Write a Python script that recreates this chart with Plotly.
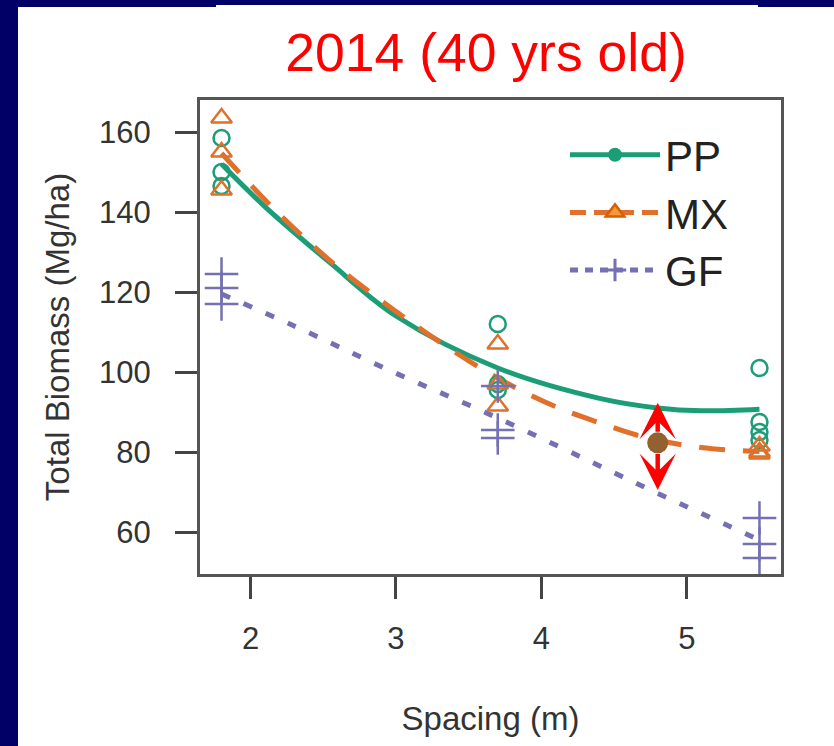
import plotly.graph_objects as go

# Observed total biomass of each plot (Mg/ha) by planting spacing (m)
pp_x = [1.8, 1.8, 1.8, 3.7, 3.7, 3.7, 5.5, 5.5, 5.5, 5.5]
pp_y = [158.5, 150.0, 146.5, 112.0, 97.0, 95.5, 101.0, 87.5, 85.0, 83.0]
mx_x = [1.8, 1.8, 1.8, 3.7, 3.7, 3.7, 5.5, 5.5, 5.5]
mx_y = [163.5, 155.0, 145.5, 107.0, 97.0, 91.5, 81.5, 80.0, 79.5]
gf_x = [1.8, 1.8, 1.8, 3.7, 3.7, 3.7, 5.5, 5.5, 5.5]
gf_y = [124.5, 121.0, 117.0, 96.5, 85.5, 83.5, 63.5, 57.0, 53.5]

# Fitted response curves
pp_fit_x = [1.8, 2.1, 2.55, 3.0, 3.7, 4.4, 4.8, 5.1, 5.5]
pp_fit_y = [152.0, 141.3, 127.2, 114.0, 101.0, 93.4, 91.0, 90.3, 90.7]
mx_fit_x = [1.8, 2.1, 2.35, 2.6, 2.9, 3.2, 3.5, 3.8, 4.1, 4.4, 4.7, 5.1, 5.5]
mx_fit_y = [154.7, 143.0, 134.2, 126.2, 117.8, 110.0, 102.8, 96.5, 91.3, 87.3, 83.8, 81.1, 80.1]
gf_fit_x = [1.8, 2.3, 2.95, 3.7, 4.46, 4.78, 5.5]
gf_fit_y = [119.5, 111.5, 100.5, 88.5, 75.5, 70.0, 58.0]

# Highlighted spacing and the range it spans between the curves
focus_x = [4.8]
focus_y = [82.3]
range_top = 92.3
range_bottom = 70.5

x_ticks = [2, 3, 4, 5]
y_ticks = [60, 80, 100, 120, 140, 160]

GREEN = "#1b9e77"
ORANGE = "#e0702a"
PURPLE = "#7570b3"
FONT = "Liberation Sans, Arial, sans-serif"

fig = go.Figure()

# fitted curves
fig.add_trace(go.Scatter(x=gf_fit_x, y=gf_fit_y, mode="lines", showlegend=False,
                         line=dict(color=PURPLE, width=5, dash="9px,15px", shape="spline")))
fig.add_trace(go.Scatter(x=pp_fit_x, y=pp_fit_y, mode="lines", showlegend=False,
                         line=dict(color=GREEN, width=5, shape="spline")))
fig.add_trace(go.Scatter(x=mx_fit_x, y=mx_fit_y, mode="lines", showlegend=False,
                         line=dict(color=ORANGE, width=5, dash="26px,18px", shape="spline")))

# observed plots
fig.add_trace(go.Scatter(x=pp_x, y=pp_y, mode="markers", showlegend=False,
                         marker=dict(symbol="circle-open", size=16, color=GREEN,
                                     line=dict(width=2.5, color=GREEN))))
fig.add_trace(go.Scatter(x=mx_x, y=mx_y, mode="markers", showlegend=False,
                         marker=dict(symbol="triangle-up-open", size=18, color=ORANGE,
                                     line=dict(width=2.5, color=ORANGE))))
fig.add_trace(go.Scatter(x=gf_x, y=gf_y, mode="markers", showlegend=False,
                         marker=dict(symbol="cross-thin-open", size=24, color=PURPLE,
                                     line=dict(width=2.5, color=PURPLE))))

# legend keys
fig.add_trace(go.Scatter(x=[None], y=[None], mode="lines+markers", name="PP", legendgroup="PP",
                         line=dict(color=GREEN, width=5),
                         marker=dict(symbol="circle", size=14, color=GREEN)))
fig.add_trace(go.Scatter(x=[None], y=[None], mode="lines+markers", name="MX", legendgroup="MX",
                         line=dict(color=ORANGE, width=5, dash="16px,8px"),
                         marker=dict(symbol="triangle-up", size=16, color="#f39a3c",
                                     line=dict(color="#d95f02", width=2.5))))
fig.add_trace(go.Scatter(x=[None], y=[None], mode="lines+markers", name="GF", legendgroup="GF",
                         line=dict(color=PURPLE, width=5, dash="8px,7px"),
                         marker=dict(symbol="cross-thin-open", size=18,
                                     line=dict(color=PURPLE, width=3))))

# highlighted point
fig.add_trace(go.Scatter(x=focus_x, y=focus_y, mode="markers", showlegend=False,
                         marker=dict(size=21, color="#93602f")))

annotations = []
for tip in (range_top, range_bottom):
    tail = focus_y[0] + (2.4 if tip > focus_y[0] else -2.4)
    annotations.append(dict(x=focus_x[0], y=tip, ax=focus_x[0], ay=tail,
                            xref="x", yref="y", axref="x", ayref="y",
                            text="", showarrow=True, arrowhead=3, arrowsize=1.35,
                            arrowwidth=4.5, arrowcolor="#ff0000", standoff=0, startstandoff=0))

NAVY = "#000066"
shapes = [
    dict(type="rect", xref="paper", yref="paper", layer="below", line=dict(width=0),
         fillcolor=NAVY, x0=-0.35, x1=(18 - 200) / 581, y0=-0.4, y1=1.3),
    dict(type="rect", xref="paper", yref="paper", layer="below", line=dict(width=0),
         fillcolor=NAVY, x0=-0.35, x1=(216 - 200) / 581, y0=1 + (100 - 7) / 474, y1=1.3),
    dict(type="rect", xref="paper", yref="paper", layer="below", line=dict(width=0),
         fillcolor=NAVY, x0=(216 - 200) / 581, x1=(758 - 200) / 581, y0=1 + (100 - 5) / 474, y1=1.3),
    dict(type="rect", xref="paper", yref="paper", layer="below", line=dict(width=0),
         fillcolor=NAVY, x0=(758 - 200) / 581, x1=(834 - 200) / 581, y0=1 + (100 - 7) / 474, y1=1.3),
]

axis_common = dict(showgrid=False, zeroline=False, showline=True, mirror=True,
                   linecolor="#555555", linewidth=3, ticks="outside", ticklen=22,
                   tickwidth=2.5, tickcolor="#444444",
                   tickfont=dict(family=FONT, size=31, color="#333333"),
                   title_font=dict(family=FONT, size=33, color="#333333"))

fig.update_layout(
    width=834, height=746,
    margin=dict(l=200, r=53, t=100, b=172, autoexpand=False),
    paper_bgcolor="white", plot_bgcolor="white",
    font=dict(family=FONT),
    title=dict(text="2014 (40 yrs old)", x=486 / 834, xanchor="center", xref="container",
               y=1 - 52 / 746, yanchor="middle", yref="container",
               font=dict(family=FONT, size=53.5, color="#ff0000")),
    xaxis=dict(range=[1.652, 5.648], tickvals=x_ticks, ticklabelstandoff=13,
               title=dict(text="Spacing (m)", standoff=52), **axis_common),
    yaxis=dict(range=[49.5, 168.0], tickvals=y_ticks, ticklabelstandoff=18,
               title=dict(text="Total Biomass (Mg/ha)", standoff=20), **axis_common),
    legend=dict(x=(565 - 200) / 581, xanchor="left", y=1 - (121 - 100) / 474, yanchor="top",
                bgcolor="rgba(0,0,0,0)", itemwidth=90, tracegroupgap=0,
                font=dict(family=FONT, size=42, color="#222222")),
    shapes=shapes,
    annotations=annotations,
)

fig.write_html("out.html")
